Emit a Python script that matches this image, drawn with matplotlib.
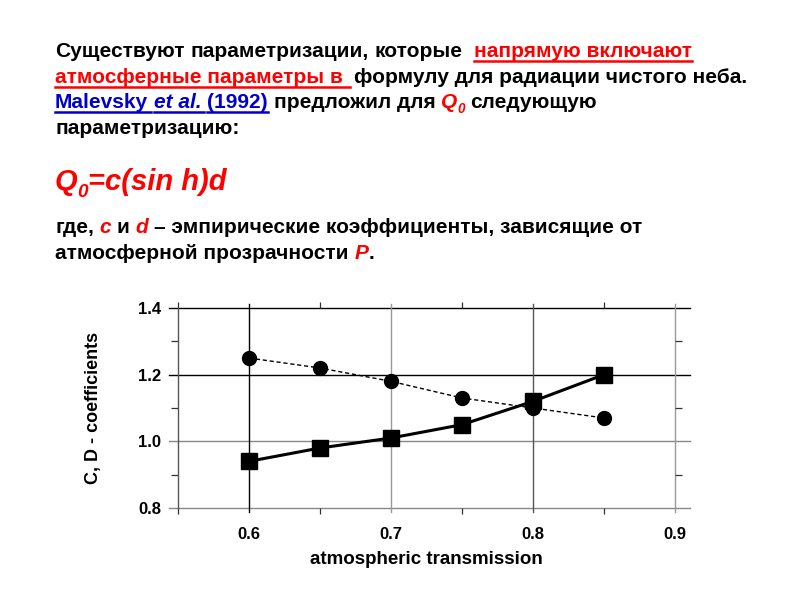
import matplotlib
matplotlib.use("Agg")
import matplotlib.pyplot as plt
from matplotlib.lines import Line2D
from matplotlib.ticker import MultipleLocator

# data
transmission = [0.60, 0.65, 0.70, 0.75, 0.80, 0.85]
coef_c = [0.94, 0.98, 1.01, 1.05, 1.12, 1.20]
coef_d = [1.25, 1.22, 1.18, 1.13, 1.10, 1.07]
x_ticks = [0.6, 0.7, 0.8, 0.9]
y_ticks = [0.8, 1.0, 1.2, 1.4]

RED = "#ff0000"
BLUE = "#0000cc"
FONT = ["Liberation Sans", "DejaVu Sans"]
W, H = 800, 600

plt.rcParams["font.family"] = FONT
fig = plt.figure(figsize=(8, 6), dpi=100)
fig.patch.set_facecolor("white")
fig.canvas.draw()
renderer = fig.canvas.get_renderer()


def text_width(s, size, style="normal"):
    t = fig.text(0, 0, s, fontsize=size, fontstyle=style, fontweight="bold")
    w = t.get_window_extent(renderer).width
    t.remove()
    return w


def draw_line(x0, y, segments, size=15, weight="bold"):
    """segments: (text, color, style, underline extra px, subscript); ' ' is a space"""
    space = text_width("a a", size) - text_width("aa", size)
    x = x0
    for text, color, style, underline, sub in segments:
        if text == " ":
            x += space
            continue
        fs = size * 0.65 if sub else size
        dy = size * 0.35 if sub else 0
        t = fig.text(x / W, 1 - (y + dy) / H, text, fontsize=fs, color=color,
                     fontstyle=style, fontweight=weight, va="baseline")
        w = t.get_window_extent(renderer).width
        if underline:
            fig.add_artist(Line2D([x / W, (x + w + underline - 1) / W],
                                  [1 - (y + 4) / H] * 2, color=color, lw=1.8))
        x += w


K = "black"
S = (" ", K, "normal", 0, False)
draw_line(55, 57, [("Существуют", K, "normal", 0, False), S,
                   ("параметризации,", K, "normal", 0, False), S,
                   ("которые", K, "normal", 0, False), S, S,
                   ("напрямую включают", RED, "normal", 1, False)])
draw_line(55, 83, [("атмосферные параметры в", RED, "normal", 8, False), S, S,
                   ("формулу для радиации чистого неба.", K, "normal", 0, False)])
draw_line(55, 108, [("Malevsky", BLUE, "normal", 4, False), S,
                    ("et al.", BLUE, "italic", 4, False), S,
                    ("(1992)", BLUE, "normal", 1, False), S,
                    ("предложил для", K, "normal", 0, False), S,
                    ("Q", RED, "italic", 0, False), ("0", RED, "italic", 0, True), S,
                    ("следующую", K, "normal", 0, False)])
draw_line(55, 134, [("параметризацию:", K, "normal", 0, False)])
draw_line(55, 190, [("Q", RED, "italic", 0, False), ("0", RED, "italic", 0, True),
                    ("=c(sin h)d", RED, "italic", 0, False)], size=21)
draw_line(55, 233, [("где,", K, "normal", 0, False), S,
                    ("c", RED, "italic", 0, False), S,
                    ("и", K, "normal", 0, False), S,
                    ("d", RED, "italic", 0, False), S,
                    ("– эмпирические коэффициенты, зависящие от", K, "normal", 0, False)])
draw_line(55, 259, [("атмосферной прозрачности", K, "normal", 0, False), S,
                    ("P", RED, "italic", 0, False), (".", K, "normal", 0, False)])

# chart
ax = fig.add_axes([178 / W, 1 - 508 / H, (675 - 178) / W, (508 - 308) / H])
ax.set_xlim(0.55, 0.9)
ax.set_ylim(0.8, 1.4)
for sp in ["top", "right", "bottom"]:
    ax.spines[sp].set_visible(False)
ax.spines["left"].set_color("#555555")
ax.spines["left"].set_linewidth(1.0)
ax.set_xticks(x_ticks)
ax.set_yticks(y_ticks)
ax.xaxis.set_minor_locator(MultipleLocator(0.05))
ax.yaxis.set_minor_locator(MultipleLocator(0.1))
ax.tick_params(which="both", direction="out", width=0.9, color="#333333")
ax.tick_params(axis="x", which="major", length=0, pad=14)
ax.tick_params(axis="x", which="minor", length=4, top=True, bottom=True)
ax.tick_params(axis="y", which="major", length=0, pad=12)
ax.tick_params(axis="y", which="minor", length=5, left=True, right=True)
ax.set_xticklabels([f"{v:.1f}" for v in x_ticks], fontsize=12, fontweight="bold")
ax.set_yticklabels([f"{v:.1f}" for v in y_ticks], fontsize=12, fontweight="bold")

for v in y_ticks:
    ax.axhline(v, xmin=-0.018, xmax=1.03, clip_on=False, lw=1.0, zorder=1,
               color="black" if v in (1.2, 1.4) else "#888888")
for v in x_ticks:
    ax.axvline(v, ymin=-0.02, ymax=1.02, clip_on=False, lw=1.0, zorder=1,
               color="black" if v == 0.6 else ("#555555" if v == 0.8 else "#999999"))

ax.plot(transmission, coef_d, color="black", ls=(0, (3, 2)), lw=1, marker="o",
        ms=10, zorder=3, clip_on=False)
ax.plot(transmission, coef_c, color="black", lw=2.2, marker="s", ms=12, zorder=4,
        clip_on=False)

ax.set_xlabel("atmospheric transmission", fontsize=13.5, fontweight="bold", labelpad=6)
ax.set_ylabel("C, D - coefficients", fontsize=13, fontweight="bold", labelpad=26)

fig.savefig("out.png", dpi=100)
